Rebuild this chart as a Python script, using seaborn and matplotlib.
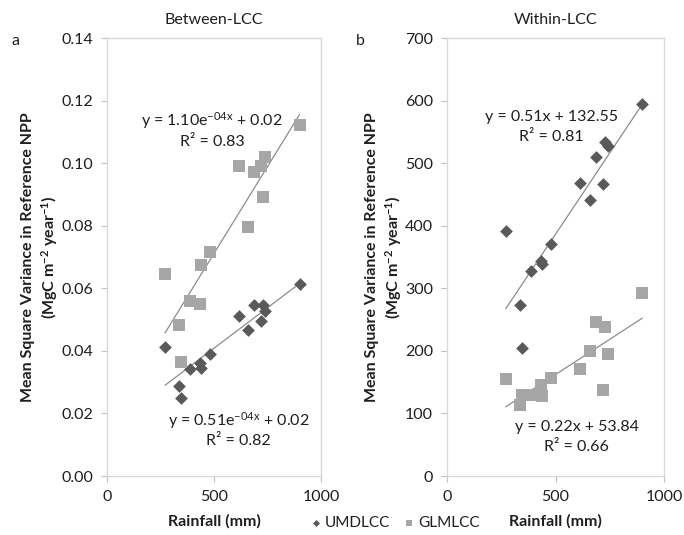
import numpy as np
import pandas as pd
import matplotlib
matplotlib.use("Agg")
import matplotlib.pyplot as plt
import seaborn as sns

# ---------------- data ----------------
rainfall = [271, 336, 344, 386, 435, 440, 479, 615, 658, 687, 718, 727, 740, 900]

between_umd = [0.0413, 0.0288, 0.0248, 0.0343, 0.0361, 0.0346, 0.0391,
               0.0512, 0.0466, 0.0545, 0.0496, 0.0547, 0.0528, 0.0614]
between_glm = [0.0646, 0.0484, 0.0363, 0.0560, 0.0550, 0.0673, 0.0715,
               0.0991, 0.0796, 0.0973, 0.0992, 0.0893, 0.1019, 0.1122]

within_umd = [392, 274, 204, 328, 343, 339, 370, 469, 441, 510, 467, 533, 528, 594]
within_glm = [155, 113, 130, 130, 145, 128, 156, 171, 199, 246, 138, 238, 195, 292]

series_names = ["UMDLCC", "GLMLCC"]
panel_titles = ["Between-LCC", "Within-LCC"]
panel_letters = ["a", "b"]
between_yticks = [0.00, 0.02, 0.04, 0.06, 0.08, 0.10, 0.12, 0.14]
within_yticks = [0, 100, 200, 300, 400, 500, 600, 700]
xticks = [0, 500, 1000]

eq_between_glm = ["y = 1.10e$^{-04x}$ + 0.02", "R² = 0.83"]
eq_between_umd = ["y = 0.51e$^{-04x}$ + 0.02", "R² = 0.82"]
eq_within_umd = ["y = 0.51x + 132.55", "R² = 0.81"]
eq_within_glm = ["y = 0.22x + 53.84", "R² = 0.66"]

# ---------------- style ----------------
FONT = "Lato"
FS = 11.5
sns.set_theme(style="white")
plt.rcParams["font.family"] = [FONT, "DejaVu Sans"]
plt.rcParams["mathtext.fontset"] = "custom"
plt.rcParams["mathtext.rm"] = FONT
plt.rcParams["mathtext.it"] = FONT
plt.rcParams["mathtext.bf"] = FONT + ":bold"
plt.rcParams["mathtext.default"] = "regular"

DARK = "#595959"
LIGHT = "#a6a6a6"
LINE = "#8c8c8c"
SPINE = "#d9d9d9"
TXT = "#1f1f1f"
palette = {"UMDLCC": DARK, "GLMLCC": LIGHT}
markers = {"UMDLCC": "D", "GLMLCC": "s"}
sizes_pt = {"UMDLCC": 42, "GLMLCC": 75}

def long_df(umd, glm):
    return pd.DataFrame({
        "Rainfall": rainfall + rainfall,
        "Value": list(umd) + list(glm),
        "LCC": ["UMDLCC"] * len(umd) + ["GLMLCC"] * len(glm),
    })

fig = plt.figure(figsize=(6.84, 5.35), dpi=100)
ax1 = fig.add_axes([107 / 684, 59 / 535, 214 / 684, 438 / 535])
ax2 = fig.add_axes([447 / 684, 59 / 535, 217 / 684, 438 / 535])

panels = [
    (ax1, long_df(between_umd, between_glm), between_yticks, "%.2f"),
    (ax2, long_df(within_umd, within_glm), within_yticks, "%d"),
]

for ax, df, yt, fmt in panels:
    for name in series_names:
        sub = df[df["LCC"] == name]
        sns.regplot(data=sub, x="Rainfall", y="Value", ax=ax, scatter=False,
                    ci=None, color=LINE, line_kws={"lw": 0.9})
        sns.scatterplot(data=sub, x="Rainfall", y="Value", ax=ax,
                        marker=markers[name], color=palette[name],
                        s=sizes_pt[name], linewidth=0, label=name, zorder=3)
    ax.set_xlim(0, 1000)
    ax.set_ylim(yt[0], yt[-1])
    ax.set_xticks(xticks)
    ax.set_yticks(yt)
    ax.set_yticklabels([fmt % v for v in yt])
    for s in ax.spines.values():
        s.set_color(SPINE)
        s.set_linewidth(1.0)
    ax.tick_params(axis="both", which="both", direction="out", length=4,
                   width=0.8, color="#bfbfbf", labelsize=FS,
                   labelcolor=TXT, left=True, bottom=True, pad=6)
    ax.set_xlabel("Rainfall (mm)", fontsize=FS, fontweight="bold",
                  color=TXT, labelpad=7)
    ax.set_ylabel("")
    ax.get_legend().remove()

ylab = "Mean Square Variance in Reference NPP\n(MgC m$\\mathbf{^{-2}}$ year$\\mathbf{^{-1}}$)"
for ax in (ax1, ax2):
    ax.set_ylabel(ylab, fontsize=FS, fontweight="bold", color=TXT,
                  labelpad=1, linespacing=1.25)

for ax, title in zip([ax1, ax2], panel_titles):
    ax.set_title(title, fontsize=FS, color=TXT, pad=10)
fig.text(12 / 684, 1 - 41 / 535, panel_letters[0], fontsize=FS, color=TXT, va="center")
fig.text(356 / 684, 1 - 41 / 535, panel_letters[1], fontsize=FS, color=TXT, va="center")

def eq(ax, x, y1, y2, lines):
    ax.text(x, y1, lines[0], fontsize=FS, color=TXT, ha="center", va="center")
    ax.text(x, y2, lines[1], fontsize=FS, color=TXT, ha="center", va="center")

eq(ax1, 490, 0.1135, 0.1068, eq_between_glm)
eq(ax1, 615, 0.0176, 0.0112, eq_between_umd)
eq(ax2, 482, 574, 542, eq_within_umd)
eq(ax2, 598, 78, 46, eq_within_glm)

handles, labels = ax1.get_legend_handles_labels()
fig.legend(handles, labels, loc="center", bbox_to_anchor=(393 / 684, 1 - 523 / 535),
           ncol=2, frameon=False, fontsize=FS - 0.5, handletextpad=0.0,
           columnspacing=0.6, markerscale=0.55, labelcolor=TXT, handlelength=1.2)

fig.savefig("out.png", dpi=100)
